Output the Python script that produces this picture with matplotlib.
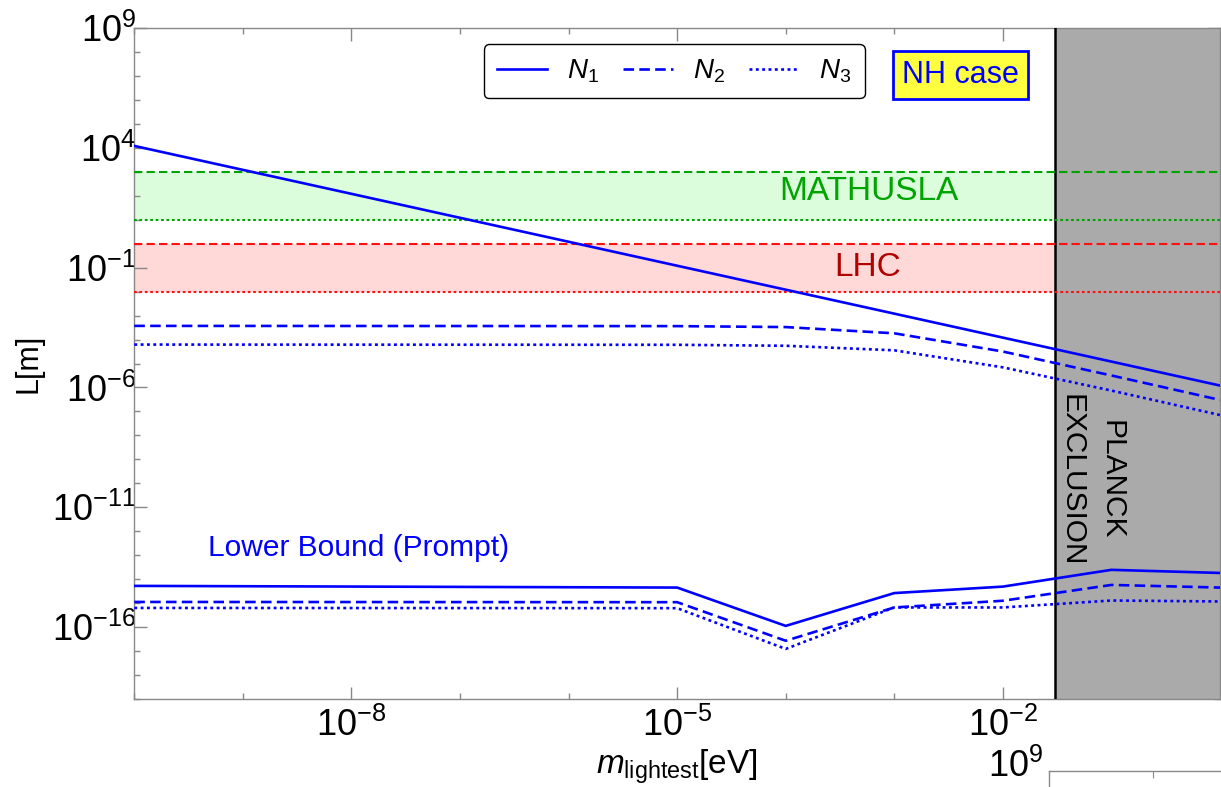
import numpy as np
import matplotlib
matplotlib.use("Agg")
import matplotlib.pyplot as plt
from matplotlib.ticker import FixedLocator, NullFormatter

plt.rcParams['font.family'] = ['Liberation Sans', 'DejaVu Sans']
plt.rcParams['mathtext.fontset'] = 'custom'
plt.rcParams['mathtext.rm'] = 'Liberation Sans'
plt.rcParams['mathtext.it'] = 'Liberation Sans:italic'

# lightest neutrino mass [eV]
m_light = [1e-10, 1e-5, 1e-4, 1e-3, 1e-2, 1e-1, 1.0]

# upper curves, log10 of decay length L [m]
upper_n1 = [4.08, -0.92, -1.92, -2.92, -3.92, -4.92, -5.92]
upper_n2 = [-3.43, -3.44, -3.48, -3.74, -4.50, -5.50, -6.52]
upper_n3 = [-4.21, -4.22, -4.26, -4.45, -5.16, -6.13, -7.15]

# lower bound (prompt), log10 L [m]
lower_n1 = [-14.28, -14.35, -15.95, -14.58, -14.31, -13.61, -13.74]
lower_n2 = [-14.95, -14.96, -16.57, -15.18, -14.90, -14.24, -14.35]
lower_n3 = [-15.20, -15.21, -16.91, -15.18, -15.18, -14.89, -14.93]

# experiment bands [m]
mathusla_band = [10.0, 1e3]
lhc_band = [1e-2, 1.0]
planck_limit = 0.03

x_lim = [1e-10, 1.0]
y_lim = [1e-19, 1e9]

fig = plt.figure(figsize=(12.21, 7.87), dpi=100)
ax = fig.add_axes([134.3 / 1221, 1 - 699 / 787, (1220 - 134.3) / 1221, (699 - 28) / 787])
ax.set_xscale('log')
ax.set_yscale('log')
ax.set_xlim(x_lim)
ax.set_ylim(y_lim)

blue = '#0000ff'
green = '#00a400'
red = '#ff1010'
dashed = (0, (4, 2))
dotted = (0, (1.1, 1.3))

# bands
ax.axhspan(mathusla_band[0], mathusla_band[1], color='#dcfddc', zorder=1, lw=0)
ax.axhspan(lhc_band[0], lhc_band[1], color='#ffd8d8', zorder=1, lw=0)
ax.axhline(mathusla_band[1], color=green, lw=1.5, ls=(0, (4, 2)), zorder=4)
ax.axhline(mathusla_band[0], color=green, lw=1.5, ls=(0, (1.3, 1.3)), zorder=4)
ax.axhline(lhc_band[1], color=red, lw=1.5, ls=(0, (4, 2)), zorder=4)
ax.axhline(lhc_band[0], color=red, lw=1.5, ls=(0, (1.3, 1.3)), zorder=4)

# Planck exclusion
ax.axvspan(planck_limit, x_lim[1], color='#aaaaaa', zorder=2, lw=0)
ax.axvline(planck_limit, color='black', lw=1.8, zorder=3)

lw = 1.9
ax.plot(m_light, 10.0 ** np.array(upper_n1), color=blue, lw=lw, zorder=5, label='$N_1$')
ax.plot(m_light, 10.0 ** np.array(upper_n2), color=blue, lw=lw, ls=dashed, zorder=5, label='$N_2$')
ax.plot(m_light, 10.0 ** np.array(upper_n3), color=blue, lw=lw, ls=dotted, zorder=5, label='$N_3$')
ax.plot(m_light, 10.0 ** np.array(lower_n1), color=blue, lw=lw, zorder=5)
ax.plot(m_light, 10.0 ** np.array(lower_n2), color=blue, lw=lw, ls=dashed, zorder=5)
ax.plot(m_light, 10.0 ** np.array(lower_n3), color=blue, lw=lw, ls=dotted, zorder=5)

# texts
ax.text(10 ** -9.32, 10 ** -12.7, 'Lower Bound (Prompt)', color=blue, fontsize=21.5,
        ha='left', va='center', zorder=6)
ax.text(10 ** -3.23, 10 ** 2.16, 'MATHUSLA', color=green, fontsize=24,
        ha='center', va='center', zorder=6)
ax.text(10 ** -3.25, 10 ** -1.0, 'LHC', color='#b00000', fontsize=24,
        ha='center', va='center', zorder=6)
ax.text(10 ** -1.18, 10 ** -9.86, 'PLANCK\nEXCLUSION', color='black', fontsize=21.5,
        ha='center', va='center', rotation=-90, linespacing=1.55, zorder=6)

leg = ax.legend(loc='upper left', bbox_to_anchor=(0.322, 0.976), ncol=3, fontsize=20,
                frameon=True, fancybox=True, edgecolor='black', handlelength=1.8,
                columnspacing=0.87, handletextpad=0.72, borderpad=0.48,
                borderaxespad=0.0)
leg.get_frame().set_linewidth(1.0)
leg.get_frame().set_alpha(1.0)
leg.set_zorder(7)

ax.text(0.761, 0.930, 'NH case', transform=ax.transAxes, color=blue, fontsize=22,
        ha='center', va='center', zorder=7,
        bbox=dict(boxstyle='square,pad=0.3', facecolor='#ffff40', edgecolor=blue, lw=2))

# ticks
spine_grey = '#888888'
ax.xaxis.set_major_locator(FixedLocator([1e-8, 1e-5, 1e-2]))
ax.xaxis.set_minor_locator(FixedLocator([10.0 ** k for k in range(-10, 1)]))
ax.yaxis.set_major_locator(FixedLocator([1e9, 1e4, 1e-1, 1e-6, 1e-11, 1e-16]))
ax.yaxis.set_minor_locator(FixedLocator([10.0 ** k for k in range(-19, 10)]))
ax.xaxis.set_minor_formatter(NullFormatter())
ax.yaxis.set_minor_formatter(NullFormatter())
ax.tick_params(which='both', direction='in', top=True, right=True, color=spine_grey,
               labelsize=26)
ax.tick_params(which='major', length=9, width=1.0)
ax.tick_params(which='minor', length=4.5, width=1.0)
ax.tick_params(axis='x', which='major', pad=6)
ax.tick_params(axis='y', which='major', pad=-1.5)
for sp in ax.spines.values():
    sp.set_color(spine_grey)
    sp.set_linewidth(1.0)

ax.set_xlabel(r'$m_{\mathrm{lightest}}$[eV]', fontsize=24, labelpad=3)
ax.set_ylabel('L[m]', fontsize=22, labelpad=6)

# top corner of the next panel peeking in at the bottom
ax2 = fig.add_axes([1049 / 1221, 1 - 771 / 787 - 0.6, 0.85, 0.6])
ax2.set_xscale('log')
ax2.set_yscale('log')
ax2.set_xlim(x_lim)
ax2.set_ylim(y_lim)
ax2.xaxis.set_major_locator(FixedLocator([1e-9]))
ax2.xaxis.set_minor_locator(FixedLocator([]))
ax2.yaxis.set_major_locator(FixedLocator([]))
ax2.yaxis.set_minor_locator(FixedLocator([]))
ax2.tick_params(direction='in', top=True, bottom=False, labelbottom=False,
                color=spine_grey, length=5)
for sp in ax2.spines.values():
    sp.set_color(spine_grey)
    sp.set_linewidth(1.0)
fig.text(1043 / 1221, 1 - 785 / 787, r'$\mathdefault{10^{9}}$', fontsize=26,
         ha='right', va='bottom')

fig.savefig('out.png', dpi=100)
